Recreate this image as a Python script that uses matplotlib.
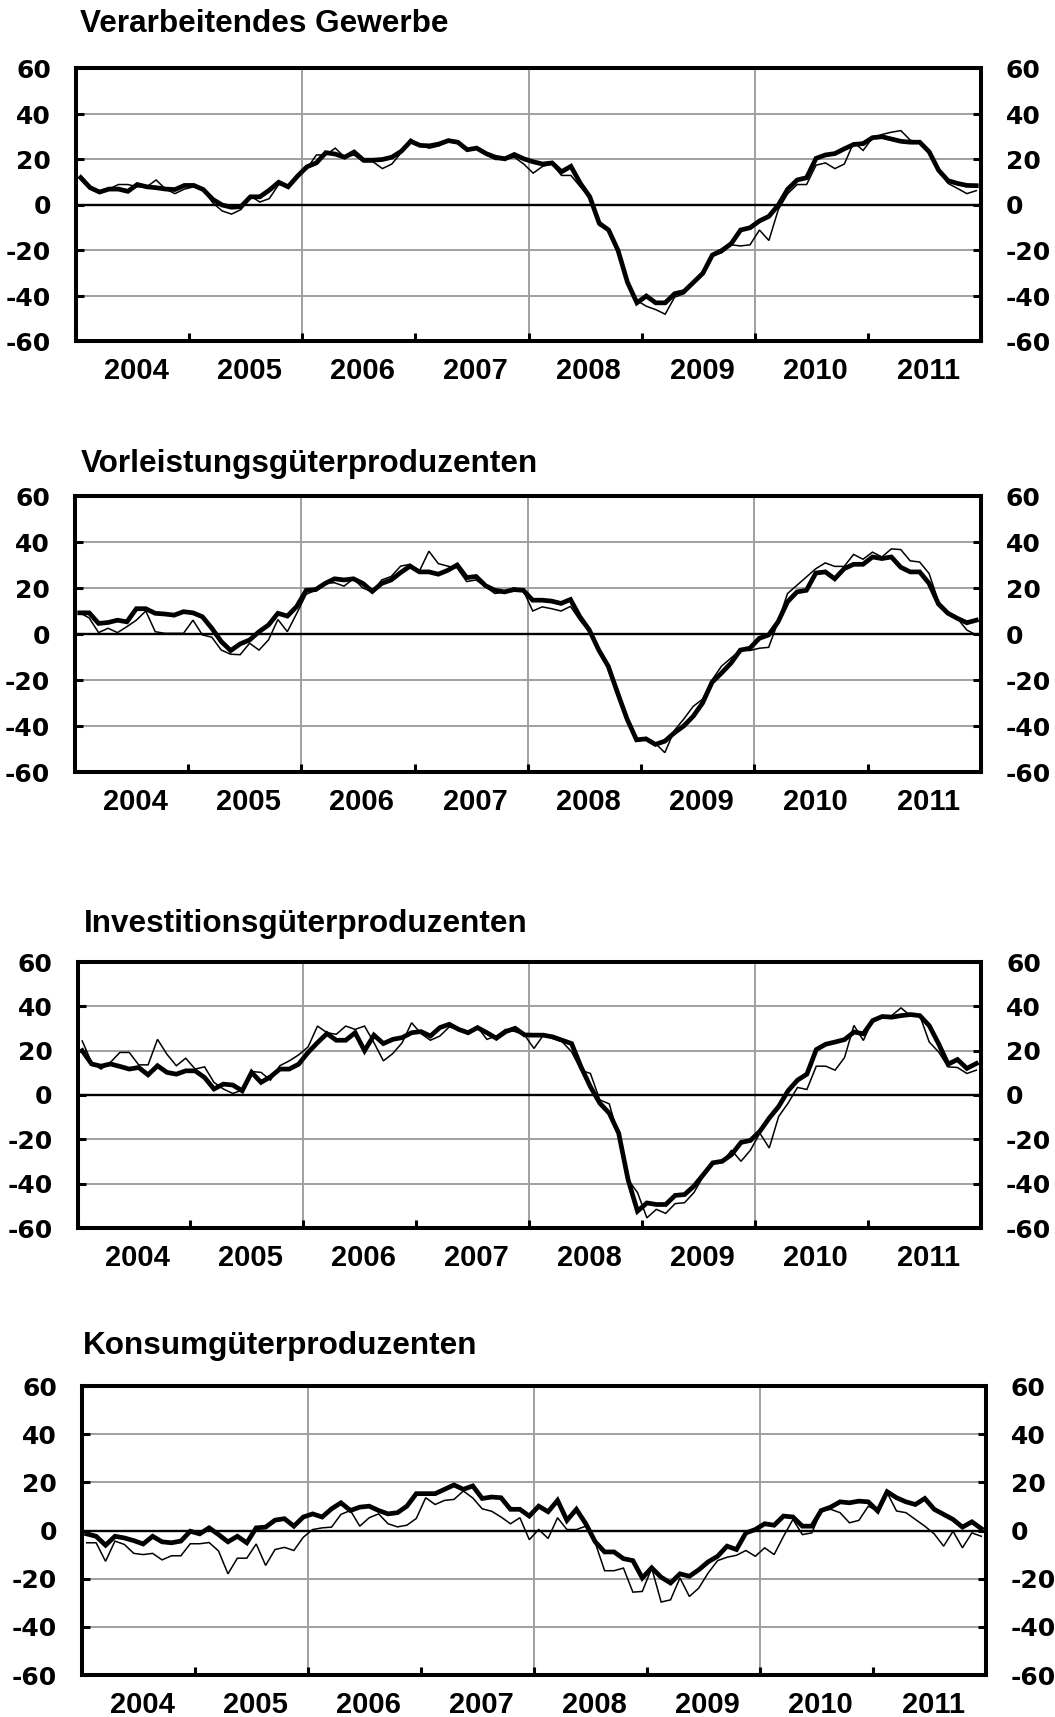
import matplotlib
matplotlib.use("Agg")
import matplotlib.pyplot as plt
import numpy as np

plt.rcParams['font.family'] = ['Liberation Sans', 'DejaVu Sans']
plt.rcParams['font.weight'] = 'bold'
plt.rcParams['axes.unicode_minus'] = False

years = ['2004', '2005', '2006', '2007', '2008', '2009', '2010', '2011']
titles = ['Verarbeitendes Gewerbe', 'Vorleistungsgüterproduzenten',
          'Investitionsgüterproduzenten', 'Konsumgüterproduzenten']
y_ticks = [-60, -40, -20, 0, 20, 40, 60]

vg_thick = [12, 7.6, 5.7, 7, 7, 6, 9, 8, 7.6, 7, 6.8, 8.6,
            8.6, 6.8, 2.5, 0, -1, -0.7, 3.6, 3.6, 6.5, 10, 8, 12.7,
            16.8, 18.5, 23, 22.4, 21, 23.3, 19.7, 19.7, 20, 21, 23.6, 28,
            26.2, 26, 26.8, 28.3, 27.6, 24.3, 25, 22.6, 21, 20.3, 22.2, 20.3,
            19, 18, 18.5, 14.6, 17, 9.5, 3.6, -8, -11, -20, -34, -43,
            -40, -43, -43, -39, -38, -34, -30, -22, -20, -17, -11, -10,
            -7, -5, 0, 7, 11, 12, 20.5, 22, 22.6, 24.7, 26.6, 27,
            29.6, 30, 29, 28, 27.6, 27.6, 23.4, 15.3, 10.7, 9.5, 8.6, 8.5]
vg_thin = [13, 8, 6, 7, 9, 9, 8, 8, 11, 7, 5, 7,
           8, 7, 1, -2.6, -4, -2, 4, 1.3, 2.8, 9, 8, 13,
           16, 22, 22, 25, 21, 22, 19, 19, 16, 18, 23, 29,
           26, 25, 26, 28, 27, 24, 25, 22, 20, 20, 21, 18,
           14, 17, 18, 13, 13, 8, 3.6, -9, -11, -20, -35, -42,
           -44.5, -46, -48, -40.5, -39, -34, -30, -22.5, -21, -17.5, -18, -17.5,
           -11, -15.6, -2, 5, 9, 9, 17.5, 18.5, 16, 18, 27.5, 24,
           29.6, 31, 32, 32.7, 28.5, 27.6, 22.6, 15.3, 9.5, 7.3, 5, 6.3]

vl_thick = [9.2, 9.2, 4.6, 5, 6, 5.3, 11, 11, 9, 8.7, 8.2, 9.7,
            9.2, 7.5, 2.5, -3.3, -7.2, -4.3, -2.6, 1, 3.9, 9, 7.8, 12,
            19, 19.3, 22, 24, 23.5, 24, 22, 18.5, 22, 23.5, 26.7, 29.5,
            27, 27, 26, 27.7, 30, 24.5, 25, 21, 19, 18.3, 19.3, 19,
            14.7, 14.7, 14.3, 13.3, 15, 7.5, 1.7, -7, -14, -25.7, -37, -46,
            -45.6, -48, -46.6, -43, -40, -35.8, -30, -21, -17, -12.7, -7, -6.2,
            -1.9, -0.4, 5.3, 14, 18.3, 19, 26.5, 27, 24, 28.4, 30.3, 30.3,
            33.5, 32.8, 33.5, 29, 27, 27, 22, 13, 9, 6.8, 4.9, 6]
vl_thin = [9.2, 7, 0.6, 2.5, 0.6, 3.2, 6, 10, 1, 0.3, 0.3, 0.3,
           6, -0.4, -1.4, -7, -8.8, -9, -4, -7, -2.6, 6.3, 1, 9,
           17.3, 19, 22, 22.3, 20.8, 24, 20, 18.3, 23.5, 25, 29.5, 30.3,
           27.4, 36, 30.6, 29.5, 28.7, 22.8, 23.5, 20.5, 17.6, 18.3, 20, 19,
           10, 11.8, 11, 10, 12, 6, 1, -6.2, -14, -24, -36.5, -46.6,
           -45, -47.6, -51.6, -42, -37, -31.5, -28.3, -20, -14, -10.5, -7, -7.2,
           -6.2, -5.8, 5.3, 17.6, 21.2, 24.8, 28.4, 30.9, 29.4, 29.4, 34.6, 32.5,
           35.6, 33.5, 37, 36.7, 31.8, 31.3, 26.3, 14, 9.7, 6.8, 1.7, -0.4]

ig_thick = [20, 14, 13, 14, 12.9, 11.7, 12.4, 9.1, 13.2, 10.2, 9.4, 10.9,
            10.9, 7.9, 2.7, 4.9, 4.5, 1.9, 10.2, 5.7, 8.2, 11.7, 11.7, 13.9,
            19.2, 23.6, 27.7, 24.7, 24.7, 28.1, 20, 27, 23.2, 25.1, 25.9, 28.1,
            28.6, 26.6, 30.4, 31.9, 29.6, 28.1, 30.4, 28.1, 25.6, 28.6, 30.1, 27.1,
            27, 27, 26.2, 24.7, 23.2, 12.7, 3.7, -3.7, -8.2, -17.2, -38.2, -52.4,
            -48.7, -49.4, -49.4, -45.3, -44.9, -41.1, -35.9, -30.6, -29.9, -26.9, -21.4, -20.5,
            -16.4, -10.4, -5.2, 1.9, 6.7, 9.4, 20.5, 22.9, 23.9, 25, 28.4, 27.6,
            33.6, 35.4, 35.1, 35.8, 36.3, 35.8, 31.3, 23.1, 13.9, 16, 12, 14.2]
ig_thin = [24.4, 14.7, 11.7, 14.7, 19.2, 19.2, 13.6, 13.6, 25.1, 18.4, 13.2, 16.6,
           11.7, 12.7, 5.7, 2.7, 0.7, 2.2, 10.6, 10.2, 6.7, 13.2, 15.4, 18.1,
           21.7, 31.1, 28.1, 27.4, 31.1, 29.6, 31.1, 23.6, 15.4, 18.7, 23.6, 32.6,
           27.7, 24.7, 26.6, 30.7, 29.6, 27.4, 30.7, 25.1, 26.6, 29.6, 28.6, 27.1,
           21, 27, 25.5, 24, 19.5, 11.2, 9.7, -2.2, -4, -18.7, -38.2, -44,
           -55.4, -51.6, -53.4, -49, -48.6, -44, -36.6, -30.6, -30.3, -24.9, -29.9, -24.9,
           -17.2, -23.9, -9.7, -3.7, 3.4, 2.5, 13, 13, 11.2, 16.9, 31.4, 24.6,
           33.9, 35.8, 35.8, 39.3, 35.8, 35.8, 23.9, 19.4, 12.7, 12.4, 9.7, 11.2]

kg_thick = [-1.4, -2.4, -6.1, -2.4, -3.1, -4.2, -5.6, -2.4, -4.7, -5.1, -4.4, -0.3,
            -1.4, 1.1, -1.7, -4.7, -2.4, -5.1, 1.1, 1.4, 4.3, 4.9, 1.8, 5.6,
            6.9, 5.6, 9, 11.5, 8.3, 9.7, 10.1, 8.3, 6.9, 7.4, 10.1, 15.3,
            15.3, 15.3, 17.1, 18.9, 17.1, 18.5, 13.3, 13.9, 13.6, 8.8, 8.8, 6,
            10.1, 7.8, 12.5, 4.2, 8.8, 2.8, -4.7, -8.9, -8.9, -11.7, -12.5, -19.7,
            -15.5, -19.4, -21.8, -18, -19, -16.3, -13, -10.7, -6.5, -7.9, -1, 0.4,
            2.8, 2.2, 6, 5.6, 1.8, 1.8, 8.3, 9.7, 11.9, 11.5, 12.2, 11.9,
            8.1, 16.1, 13.6, 11.9, 10.8, 13.3, 8.8, 6.7, 4.6, 1.4, 3.6, 0.8]
kg_thin = [-5.1, -5.1, -12.8, -4.4, -5.8, -9.5, -10, -9.5, -12.2, -10.5, -10.5, -5.5,
           -5.5, -5, -8.5, -18, -11.5, -11.5, -5.6, -14.5, -7.9, -7, -8.3, -2.8,
           0.4, 1.1, 1.4, 6.7, 8.3, 1.8, 5.3, 6.9, 2.8, 1.5, 2.2, 5,
           13.6, 10.8, 12.5, 12.9, 16.4, 13.5, 9, 8, 5.6, 2.8, 5.3, -3.8,
           0.4, -3.3, 5.3, 0.4, 0.4, 1.8, -5.1, -16.7, -16.7, -15.6, -25.6, -25.3,
           -15.6, -29.7, -28.8, -19.7, -27.4, -23.9, -17.6, -12.5, -11.1, -10.3, -8.3, -10.7,
           -7.2, -10, -2.4, 4.6, -1.7, -1, 8.1, 8.8, 7.4, 3.2, 4.2, 10.1,
           8.1, 15.7, 8.1, 7.4, 4.6, 1.8, -1.4, -6.5, -0.3, -7.2, -1, -2.4]

panels = [(vg_thick, vg_thin), (vl_thick, vl_thin), (ig_thick, ig_thin), (kg_thick, kg_thin)]

W, H = 1055, 1717
fig = plt.figure(figsize=(W / 100, H / 100), dpi=100)

# pixel boxes (spine centres): left, top, right, bottom
boxes = [(76, 68.5, 981, 341.5), (75, 496, 981, 772), (77.5, 962, 981, 1228), (82, 1386, 986, 1675)]
# title left x and baseline y in pixels
title_pos = [(80, 31.5), (81, 472), (84, 932), (83, 1354)]

grid_col = '#a0a0a0'
for (thick, thin), box, tpos, title in zip(panels, boxes, title_pos, titles):
    l, t, r, b = box
    ax = fig.add_axes([l / W, 1 - b / H, (r - l) / W, (b - t) / H])
    n = len(thick)
    x = np.arange(n) + 0.5
    for yv in y_ticks:
        if yv in (-60, 0, 60):
            continue
        ax.axhline(yv, color=grid_col, lw=1.4, zorder=1)
    for xv in range(24, 96, 24):
        ax.axvline(xv, color=grid_col, lw=1.4, zorder=1)
    ax.axhline(0, color='black', lw=1.7, zorder=2)
    ax.plot(x, thin, color='black', lw=1.1, zorder=3, solid_joinstyle='miter')
    ax.plot(x, thick, color='black', lw=3.4, zorder=4, solid_joinstyle='miter')
    ax.set_xlim(0, n)
    ax.set_ylim(-60, 60)
    ax.set_yticks(y_ticks)
    ax.set_yticklabels([str(v) for v in y_ticks])
    ax.set_xticks(np.arange(0, n + 1, 12))
    ax.set_xticklabels([])
    ax.set_xticks(np.arange(6, n, 12) + 0.4, minor=True)
    ax.set_xticklabels(years, minor=True)
    ax.tick_params(axis='x', which='minor', length=0, pad=11.5, labelsize=21)
    ax.tick_params(axis='x', which='major', direction='in', length=6, width=2.2, top=False)
    ax.tick_params(axis='y', which='major', direction='in', length=6, width=2.2,
                   left=True, right=True, labelleft=True, labelright=True, labelsize=18)
    ax.tick_params(axis='y', which='major', pad=18)
    for tk in ax.yaxis.get_major_ticks():
        for lab in (tk.label1, tk.label2):
            lab.set_fontfamily(['DejaVu Sans'])
            lab.set_fontweight('bold')
    for lab in ax.get_xticklabels(minor=True):
        lab.set_fontweight('bold')
    for sp in ax.spines.values():
        sp.set_linewidth(2.9)
        sp.set_color('black')
    fig.text(tpos[0] / W, 1 - tpos[1] / H, title, fontsize=22.7, fontweight='bold',
             ha='left', va='baseline')

fig.savefig('out.png', dpi=100)
